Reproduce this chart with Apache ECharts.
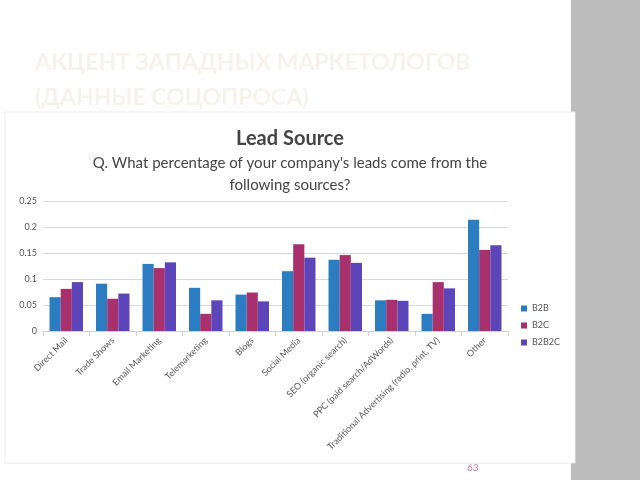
<!DOCTYPE html>
<html><head><meta charset="utf-8">
<script src="https://cdn.jsdelivr.net/npm/echarts@6/dist/echarts.min.js"></script>
<style>html,body{margin:0;padding:0;background:#fff}#c{width:640px;height:480px}</style>
</head><body><div id="c"></div>
<script>
var categories = ['Direct Mail','Trade Shows','Email Marketing','Telemarketing','Blogs','Social Media','SEO (organic search)','PPC (paid search/AdWords)','Traditional Advertising (radio, print, TV)','Other'];
var b2b   = [0.065,0.091,0.129,0.083,0.070,0.115,0.137,0.059,0.033,0.214];
var b2c   = [0.081,0.062,0.121,0.033,0.074,0.167,0.146,0.060,0.094,0.156];
var b2b2c = [0.094,0.072,0.132,0.059,0.057,0.141,0.131,0.058,0.082,0.165];
var yTicks = [0,0.05,0.1,0.15,0.2,0.25];
var seriesNames = ['B2B','B2C','B2B2C'];

var chart = echarts.init(document.getElementById('c'));
var font = 'Lato, "Open Sans", sans-serif';
chart.setOption({
  backgroundColor: '#fff',
  animation: false,
  textStyle: {fontFamily: font},
  graphic: [
    {type:'rect', shape:{x:571,y:0,width:69,height:480}, style:{fill:'#bcbcbc'}, z:-10},
    {type:'rect', shape:{x:5,y:112,width:570,height:351}, style:{fill:'#fff', stroke:'#ececec', lineWidth:1}, z:-5},
    {type:'text', position:[35,45], style:{text:'АКЦЕНТ ЗАПАДНЫХ МАРКЕТОЛОГОВ\n(ДАННЫЕ СОЦОПРОСА)', fill:'#f6f2ee', font:'bold 23px '+font, lineHeight:35}},
    {type:'text', position:[467,463], style:{text:'63', fill:'#c07a9a', font:'10px '+font}},
    {type:'text', position:[290,129], style:{text:'Lead Source', fill:'#444', font:'bold 20px '+font, textAlign:'center'}},
    {type:'text', position:[290,152], style:{text:'Q. What percentage of your company\'s leads come from the\nfollowing sources?', fill:'#444', font:'15px '+font, textAlign:'center', lineHeight:22}}
  ],
  legend: {
    orient:'vertical', left:516, top:299, itemWidth:6, itemHeight:6, itemGap:8,
    icon:'rect', textStyle:{fontSize:9, color:'#555'}, data: seriesNames
  },
  grid: {left:43, right:132, top:201, bottom:149, containLabel:false},
  xAxis: {
    type:'category', data:categories,
    axisLine:{lineStyle:{color:'#d0d0d0'}},
    axisTick:{show:true, lineStyle:{color:'#d0d0d0'}, alignWithLabel:false},
    axisLabel:{rotate:45, fontSize:9, color:'#555', interval:0, margin:8}
  },
  yAxis: {
    type:'value', min:0, max:0.25, interval:0.05,
    axisLine:{show:false}, axisTick:{show:false},
    splitLine:{lineStyle:{color:'#d8d8d8'}},
    axisLabel:{fontSize:9, color:'#555', margin:6, formatter:function(v){return String(+v.toFixed(2));}}
  },
  series: [
    {name:'B2B', type:'bar', data:b2b, barGap:'0%', barCategoryGap:'28%', itemStyle:{color:'#2b7cc0'}},
    {name:'B2C', type:'bar', data:b2c, itemStyle:{color:'#a8306d'}},
    {name:'B2B2C', type:'bar', data:b2b2c, itemStyle:{color:'#5b45b8'}}
  ]
});
</script></body></html>
